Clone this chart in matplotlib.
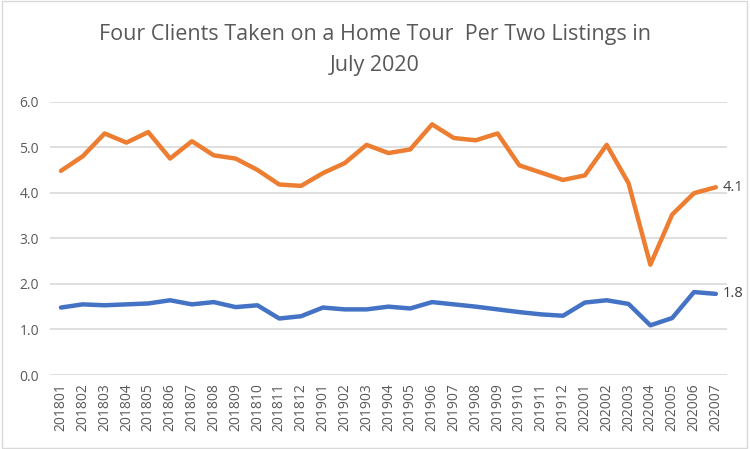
import numpy as np
import matplotlib.pyplot as plt
from matplotlib.patches import Rectangle

# 月份标签
months = ['201801', '201802', '201803', '201804', '201805', '201806', '201807',
          '201808', '201809', '201810', '201811', '201812',
          '201901', '201902', '201903', '201904', '201905', '201906', '201907',
          '201908', '201909', '201910', '201911', '201912',
          '202001', '202002', '202003', '202004', '202005', '202006', '202007']

# 橙色线
orange_vals = [4.48, 4.80, 5.30, 5.10, 5.33, 4.75, 5.13, 4.82, 4.75, 4.50, 4.18,
               4.15, 4.43, 4.65, 5.05, 4.87, 4.95, 5.50, 5.20, 5.15, 5.30, 4.60,
               4.44, 4.28, 4.38, 5.05, 4.21, 2.42, 3.52, 3.99, 4.12]

# 蓝色线
blue_vals = [1.48, 1.55, 1.53, 1.55, 1.57, 1.64, 1.55, 1.60, 1.49, 1.53, 1.24,
             1.29, 1.48, 1.44, 1.44, 1.50, 1.46, 1.60, 1.55, 1.50, 1.44, 1.38,
             1.33, 1.30, 1.59, 1.64, 1.56, 1.09, 1.25, 1.82, 1.78]

plt.rcParams['font.family'] = ['Open Sans', 'DejaVu Sans']

fig = plt.figure(figsize=(7.5, 4.49), dpi=100)
ax = fig.add_axes([0.0667, 0.1648, 0.9023, 0.609])

x = np.arange(len(months))
ax.plot(x, orange_vals, color='#ED7D31', lw=3.2, solid_capstyle='round', zorder=3)
ax.plot(x, blue_vals, color='#4472C4', lw=3.2, solid_capstyle='round', zorder=3)

# 末尾数据标签
ax.annotate(f'{orange_vals[-1]:.1f}', (x[-1], orange_vals[-1]), xytext=(5, 0),
            textcoords='offset points', va='center', ha='left', fontsize=10.5, color='#404040')
ax.annotate(f'{blue_vals[-1]:.1f}', (x[-1], blue_vals[-1]), xytext=(5, 0),
            textcoords='offset points', va='center', ha='left', fontsize=10.5, color='#404040')

ax.set_xlim(-0.5, len(months) - 0.5)
ax.set_ylim(0, 6)
ax.set_yticks(np.arange(0, 7, 1))
ax.set_yticklabels([f'{v:.1f}' for v in np.arange(0, 7, 1)])
ax.set_xticks(x)
ax.set_xticklabels(months, rotation=90)
ax.tick_params(length=0, labelsize=10, colors='#595959')
ax.tick_params(axis='y', pad=8)
ax.tick_params(axis='x', pad=6)
ax.grid(axis='y', color='#D9D9D9', lw=1.2)
ax.set_axisbelow(True)
for s in ax.spines.values():
    s.set_visible(False)

fig.text(0.5, 0.888, 'Four Clients Taken on a Home Tour  Per Two Listings in\nJuly 2020',
         ha='center', va='center', fontsize=15.5, color='#595959', linespacing=1.6)

fig.patches.append(Rectangle((0.002, 0.002), 0.994, 0.996, transform=fig.transFigure,
                             fill=False, edgecolor='#D9D9D9', lw=1))

fig.savefig('out.png', dpi=100)
